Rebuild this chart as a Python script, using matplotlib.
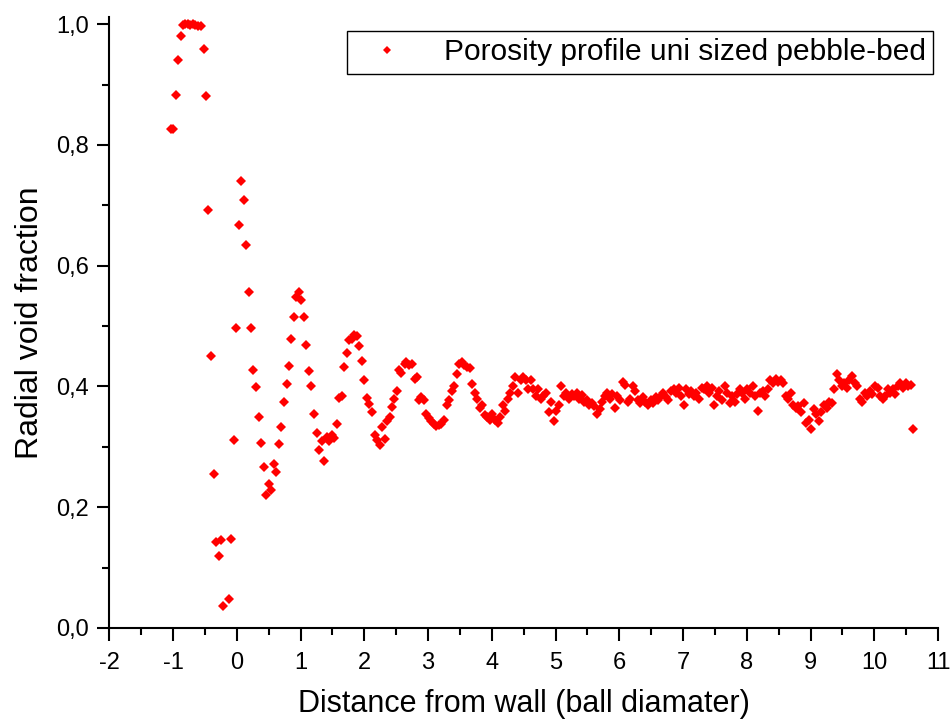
import matplotlib
matplotlib.use("Agg")
import matplotlib.pyplot as plt
from matplotlib.ticker import MultipleLocator, FuncFormatter

plt.rcParams['font.family'] = ['Liberation Sans', 'DejaVu Sans']
plt.rcParams['axes.unicode_minus'] = False

# near wall part (read point by point)
x_near = [-1.03, -1.00, -0.96, -0.92, -0.88, -0.85, -0.81, -0.77, -0.73, -0.69,
          -0.65, -0.61, -0.57, -0.52, -0.49, -0.45, -0.40, -0.36, -0.325, -0.284,
          -0.247, -0.21, -0.127, -0.09, -0.05, -0.017, 0.03, 0.067, 0.108, 0.146,
          0.187, 0.224, 0.26, 0.303, 0.344, 0.386, 0.418, 0.46, 0.50, 0.543,
          0.585, 0.62, 0.664, 0.70, 0.742, 0.78, 0.815, 0.857, 0.90, 0.93,
          0.97, 1.01, 1.06, 1.09, 1.135, 1.17, 1.21, 1.25, 1.29, 1.33,
          1.37, 1.41, 1.45, 1.49, 1.53, 1.57, 1.60, 1.65, 1.68, 1.73,
          1.76, 1.80, 1.84, 1.88, 1.92, 1.96, 2.00, 2.04, 2.08, 2.12,
          2.16, 2.20, 2.24, 2.28, 2.32, 2.36, 2.40, 2.43, 2.47, 2.51,
          2.55, 2.58, 2.63, 2.66, 2.70, 2.75, 2.79, 2.82, 2.85]
void_near = [0.827, 0.827, 0.882, 0.940, 0.981, 0.998, 1.000, 1.000, 0.999, 1.000,
             0.998, 0.997, 0.997, 0.959, 0.881, 0.692, 0.451, 0.255, 0.143, 0.120,
             0.146, 0.037, 0.048, 0.148, 0.311, 0.497, 0.668, 0.741, 0.709, 0.635,
             0.557, 0.497, 0.427, 0.399, 0.350, 0.306, 0.266, 0.220, 0.238, 0.228,
             0.272, 0.258, 0.305, 0.333, 0.375, 0.404, 0.434, 0.479, 0.515, 0.548,
             0.557, 0.543, 0.515, 0.469, 0.425, 0.400, 0.355, 0.323, 0.294, 0.310,
             0.276, 0.316, 0.309, 0.320, 0.314, 0.338, 0.381, 0.385, 0.432, 0.456,
             0.477, 0.479, 0.485, 0.483, 0.467, 0.443, 0.411, 0.381, 0.371, 0.357,
             0.320, 0.312, 0.303, 0.333, 0.313, 0.343, 0.350, 0.366, 0.379, 0.392,
             0.427, 0.423, 0.438, 0.440, 0.435, 0.437, 0.413, 0.416, 0.378]

# bulk part of the bed
x_bulk = [2.89, 2.93, 2.97, 3.01, 3.05, 3.09, 3.13, 3.17, 3.21, 3.25,
          3.29, 3.33, 3.37, 3.41, 3.45, 3.49, 3.53, 3.57, 3.61, 3.65,
          3.69, 3.73, 3.77, 3.81, 3.85, 3.89, 3.93, 3.97, 4.01, 4.05,
          4.09, 4.13, 4.17, 4.21, 4.25, 4.29, 4.33, 4.37, 4.41, 4.45,
          4.49, 4.53, 4.57, 4.61, 4.65, 4.69, 4.73, 4.77, 4.81, 4.85,
          4.89, 4.93, 4.97, 5.01, 5.05, 5.09, 5.13, 5.17, 5.21, 5.25,
          5.29, 5.33, 5.37, 5.41, 5.45, 5.49, 5.53, 5.57, 5.61, 5.65,
          5.69, 5.73, 5.77, 5.81, 5.85, 5.89, 5.93, 5.97, 6.01, 6.05,
          6.09, 6.13, 6.17, 6.21, 6.25, 6.29, 6.33, 6.37, 6.41, 6.45,
          6.49, 6.53, 6.57, 6.61, 6.65, 6.69, 6.73, 6.77, 6.81, 6.85,
          6.89, 6.93, 6.97, 7.01, 7.05, 7.09, 7.13, 7.17, 7.21, 7.25,
          7.29, 7.33, 7.37, 7.41, 7.45, 7.49, 7.53, 7.57, 7.61, 7.65,
          7.69, 7.73, 7.77, 7.81, 7.85, 7.89, 7.93, 7.97, 8.01, 8.05,
          8.09, 8.13, 8.17, 8.21, 8.25, 8.29, 8.33, 8.37, 8.41, 8.45,
          8.49, 8.53, 8.57, 8.61, 8.65, 8.69, 8.73, 8.77, 8.81, 8.85,
          8.89, 8.93, 8.97, 9.01, 9.05, 9.09, 9.13, 9.17, 9.21, 9.25,
          9.29, 9.33, 9.37, 9.41, 9.45, 9.49, 9.53, 9.57, 9.61, 9.65,
          9.69, 9.73, 9.77, 9.81, 9.85, 9.89, 9.93, 9.97, 10.01, 10.05,
          10.09, 10.13, 10.17, 10.21, 10.25, 10.29, 10.33, 10.37, 10.41, 10.45,
          10.49, 10.53, 10.57, 10.61]
void_bulk = [0.383, 0.378, 0.355, 0.348, 0.343, 0.338, 0.335, 0.336, 0.338, 0.345,
             0.370, 0.378, 0.392, 0.400, 0.420, 0.438, 0.440, 0.435, 0.432, 0.430,
             0.404, 0.390, 0.380, 0.365, 0.370, 0.352, 0.350, 0.345, 0.355, 0.345,
             0.340, 0.350, 0.370, 0.360, 0.380, 0.390, 0.400, 0.415, 0.390, 0.410,
             0.415, 0.410, 0.395, 0.410, 0.395, 0.385, 0.395, 0.380, 0.385, 0.390,
             0.358, 0.375, 0.343, 0.360, 0.370, 0.400, 0.385, 0.390, 0.380, 0.388,
             0.385, 0.390, 0.380, 0.386, 0.375, 0.378, 0.370, 0.372, 0.368, 0.355,
             0.362, 0.375, 0.385, 0.390, 0.380, 0.388, 0.365, 0.385, 0.378, 0.408,
             0.402, 0.375, 0.380, 0.400, 0.392, 0.378, 0.372, 0.383, 0.375, 0.370,
             0.378, 0.372, 0.383, 0.378, 0.385, 0.390, 0.383, 0.378, 0.392, 0.395,
             0.390, 0.398, 0.385, 0.370, 0.395, 0.388, 0.392, 0.385, 0.390, 0.380,
             0.398, 0.395, 0.400, 0.390, 0.398, 0.370, 0.385, 0.392, 0.378, 0.400,
             0.390, 0.372, 0.385, 0.375, 0.388, 0.395, 0.390, 0.380, 0.395, 0.390,
             0.400, 0.385, 0.360, 0.390, 0.392, 0.385, 0.395, 0.410, 0.405, 0.412,
             0.408, 0.410, 0.405, 0.385, 0.380, 0.390, 0.370, 0.365, 0.368, 0.358,
             0.372, 0.340, 0.345, 0.330, 0.362, 0.355, 0.343, 0.358, 0.370, 0.365,
             0.375, 0.372, 0.395, 0.420, 0.410, 0.400, 0.405, 0.398, 0.410, 0.418,
             0.405, 0.400, 0.380, 0.375, 0.390, 0.385, 0.392, 0.388, 0.400, 0.398,
             0.385, 0.380, 0.385, 0.395, 0.390, 0.395, 0.388, 0.400, 0.405, 0.398,
             0.405, 0.400, 0.402, 0.330]

x_all = x_near + x_bulk
void_all = void_near + void_bulk

fig = plt.figure(figsize=(9.51, 7.2), dpi=100)
ax = fig.add_axes([0.1150, 0.1278, 0.8714, 0.8482])

ax.plot(x_all, void_all, linestyle='none', marker='D', ms=5.6, mew=0,
        color='#ff0000', label='Porosity profile uni sized pebble-bed')

ax.set_xlim(-2, 11)
ax.set_ylim(0, 1.0115)
ax.xaxis.set_major_locator(MultipleLocator(1))
ax.xaxis.set_minor_locator(MultipleLocator(0.5))
ax.yaxis.set_major_locator(MultipleLocator(0.2))
ax.yaxis.set_minor_locator(MultipleLocator(0.1))
ax.yaxis.set_major_formatter(FuncFormatter(lambda v, p: ('%.1f' % v).replace('.', ',')))

ax.spines['top'].set_visible(False)
ax.spines['right'].set_visible(False)
ax.spines['left'].set_linewidth(1.5)
ax.spines['bottom'].set_linewidth(1.5)
ax.tick_params(which='major', direction='out', length=9, width=1.5, labelsize=17)
ax.tick_params(axis='y', which='major', pad=6)
ax.tick_params(axis='x', which='major', pad=8)
ax.tick_params(which='minor', direction='out', length=5, width=1.5)

ax.set_xlabel('Distance from wall (ball diamater)', fontsize=22, labelpad=11)
ax.set_ylabel('Radial void fraction', fontsize=23, labelpad=8)

leg = fig.legend(loc='upper right', bbox_to_anchor=(0.9968, 0.9778), fontsize=21.5,
                 fancybox=False, framealpha=1, edgecolor='black', markerscale=0.75,
                 handlelength=2.2, handletextpad=0.8, borderpad=0.25)
leg.get_frame().set_linewidth(1)

fig.savefig('out.png', dpi=100)
